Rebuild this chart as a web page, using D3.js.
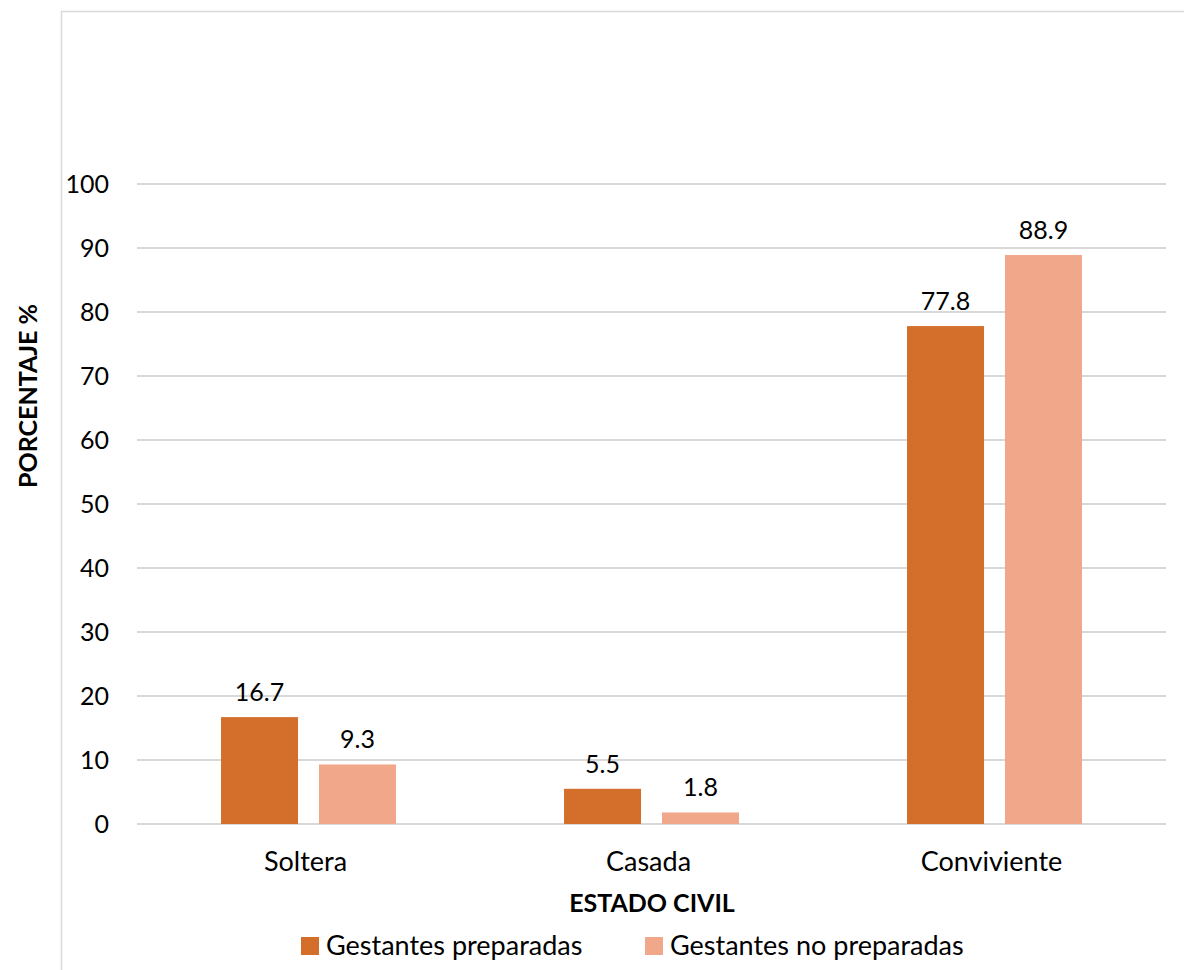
<!DOCTYPE html>
<html>
<head>
<meta charset="utf-8">
<script src="https://cdn.jsdelivr.net/npm/d3@7"></script>
<style>
  html, body { margin: 0; padding: 0; background: #ffffff; }
  svg { display: block; }
  text { font-family: Lato, "Open Sans", sans-serif; fill: #000; }
</style>
</head>
<body>
<svg id="chart" width="1184" height="970"></svg>
<script>
// Estado civil por grupo de gestantes (porcentaje)
const categories = ["Soltera", "Casada", "Conviviente"];
const seriesNames = ["Gestantes preparadas", "Gestantes no preparadas"];
const preparadas = [16.7, 5.5, 77.8];
const noPreparadas = [9.3, 1.8, 88.9];
const yTicks = [0, 10, 20, 30, 40, 50, 60, 70, 80, 90, 100];
const colors = ["#D36F2B", "#F1A78A"];

const rows = categories.map((c, i) => ({
  category: c,
  values: [
    { key: seriesNames[0], value: preparadas[i] },
    { key: seriesNames[1], value: noPreparadas[i] }
  ]
}));

const svg = d3.select("#chart");
const W = 1184, H = 970;
const plot = { left: 137, right: 1166, top: 184, bottom: 824 };
const font = "Lato, 'Open Sans', sans-serif";

// chart frame
svg.append("rect")
  .attr("x", 61.5).attr("y", 11.5)
  .attr("width", W + 10).attr("height", H + 10)
  .attr("fill", "none").attr("stroke", "#d9d9d9").attr("stroke-width", 1.5);

const y = d3.scaleLinear().domain([0, 100]).range([plot.bottom, plot.top]);
const x0 = d3.scaleBand().domain(categories)
  .range([plot.left, plot.right]).paddingInner(0.49).paddingOuter(0.245);
const x1 = d3.scaleBand().domain(seriesNames)
  .range([0, x0.bandwidth()]).paddingInner(0.214).paddingOuter(0);

// gridlines
svg.append("g").selectAll("line").data(yTicks).join("line")
  .attr("x1", plot.left).attr("x2", plot.right)
  .attr("y1", d => y(d)).attr("y2", d => y(d))
  .attr("stroke", "#d9d9d9").attr("stroke-width", 2);

// y axis labels
const yAxis = d3.axisLeft(y).tickValues(yTicks).tickSize(0).tickPadding(0);
const gy = svg.append("g").attr("transform", "translate(109,0)").call(yAxis);
gy.select(".domain").remove();
gy.selectAll("text").attr("font-size", 25).attr("font-family", font)
  .attr("fill", "#000").attr("dy", "0.35em");

// bars
const groups = svg.append("g").selectAll("g").data(rows).join("g")
  .attr("transform", d => `translate(${x0(d.category)},0)`);

groups.selectAll("rect").data(d => d.values).join("rect")
  .attr("x", d => x1(d.key))
  .attr("width", x1.bandwidth())
  .attr("y", d => y(d.value))
  .attr("height", d => y(0) - y(d.value))
  .attr("fill", (d, i) => colors[i]);

// value labels
groups.selectAll("text").data(d => d.values).join("text")
  .attr("x", d => x1(d.key) + x1.bandwidth() / 2)
  .attr("y", d => y(d.value) - 16)
  .attr("text-anchor", "middle")
  .attr("font-size", 25)
  .text(d => d.value.toFixed(1));

// x axis category labels
const xAxis = d3.axisBottom(x0).tickSize(0).tickPadding(0);
const gx = svg.append("g").attr("transform", `translate(-3,${plot.bottom + 38})`).call(xAxis);
gx.select(".domain").remove();
gx.selectAll("text").attr("font-size", 27).attr("font-family", font)
  .attr("fill", "#000").attr("dy", "0.35em");

// axis titles
svg.append("text")
  .attr("x", 652).attr("y", 906)
  .attr("text-anchor", "middle").attr("dominant-baseline", "middle")
  .attr("font-size", 25).attr("font-weight", "bold")
  .text("ESTADO CIVIL");

svg.append("text")
  .attr("transform", "translate(31,396) rotate(-90)")
  .attr("text-anchor", "middle").attr("dominant-baseline", "middle")
  .attr("font-size", 25).attr("font-weight", "bold")
  .text("PORCENTAJE %");

// legend
const legendX = [301, 645];
const legend = svg.append("g").selectAll("g").data(seriesNames).join("g")
  .attr("transform", (d, i) => `translate(${legendX[i]},946)`);
legend.append("rect")
  .attr("x", 0).attr("y", -9).attr("width", 18).attr("height", 18)
  .attr("fill", (d, i) => colors[i]);
legend.append("text")
  .attr("x", 25).attr("y", 0).attr("dy", "0.35em")
  .attr("font-size", 27)
  .text(d => d);
</script>
</body>
</html>
